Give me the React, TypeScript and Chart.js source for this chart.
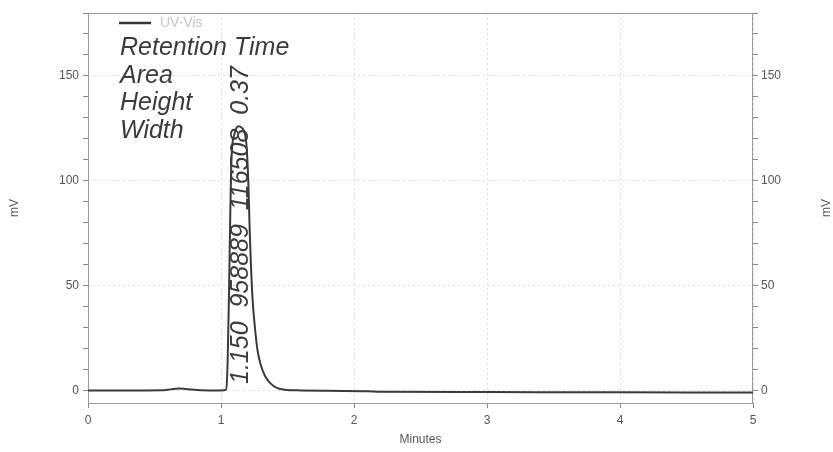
import { useEffect, useRef } from 'react';
import { Chart, registerables } from 'chart.js';

Chart.register(...registerables);

// ---- data ----
const times = [0, 0.3, 0.55, 0.62, 0.68, 0.72, 0.78, 0.85, 1.0, 1.04, 1.05, 1.06, 1.07, 1.08, 1.1, 1.13, 1.16, 1.19, 1.205, 1.215, 1.235, 1.255, 1.275, 1.3, 1.33, 1.37, 1.42, 1.48, 1.6, 1.8, 2.1, 2.2, 3, 4, 5];
const signal = [0, 0, 0.1, 0.5, 0.9, 0.8, 0.4, 0.1, 0, 0.4, 14, 45, 85, 112, 122, 126, 125, 118, 100, 78, 46, 30, 19, 12, 7, 3.5, 1.2, 0.3, 0, -0.2, -0.4, -0.6, -0.8, -0.9, -1.0];
const xTicks = [0, 1, 2, 3, 4, 5];
const yTickLabels = [0, 50, 100, 150];
const legendLabel = 'UV-Vis';
const peakLabels = ['Retention Time', 'Area', 'Height', 'Width'];
const peakValues = ['1.150', '958889', '116508', '0.37'];
const retentionTime = 1.15;
const xTitle = 'Minutes';
const yTitle = 'mV';

const FONT = "'Liberation Sans', Arial, sans-serif";

const overlayPlugin = {
  id: 'overlay',
  beforeDatasetsDraw(chart: any) {
    const { ctx, chartArea } = chart;
    const { left, top, right, bottom } = chartArea;
    ctx.save();
    ctx.strokeStyle = '#9a9a9a';
    ctx.lineWidth = 1;
    ctx.strokeRect(left + 0.5, top + 0.5, right - left - 1, bottom - top);
    ctx.restore();
  },
  afterDraw(chart: any) {
    const { ctx, chartArea, scales } = chart;
    const { left, top, bottom } = chartArea;
    ctx.save();
    // legend
    ctx.strokeStyle = '#333';
    ctx.lineWidth = 2.5;
    ctx.beginPath();
    ctx.moveTo(left + 31, top + 10);
    ctx.lineTo(left + 63, top + 10);
    ctx.stroke();
    ctx.fillStyle = '#c4c4c4';
    ctx.font = `14px ${FONT}`;
    ctx.textBaseline = 'middle';
    ctx.textAlign = 'left';
    ctx.fillText(legendLabel, left + 72, top + 10);

    // peak labels
    ctx.fillStyle = '#3b3b3b';
    ctx.font = `italic 25px ${FONT}`;
    ctx.textBaseline = 'alphabetic';
    const offs = [42, 70, 97, 125];
    peakLabels.forEach((t, i) => ctx.fillText(t, left + 32, top + offs[i]));

    // rotated values
    const px = scales.x.getPixelForValue(retentionTime);
    ctx.save();
    ctx.translate(px, bottom - 19);
    ctx.rotate(-Math.PI / 2);
    ctx.font = `italic 25px ${FONT}`;
    ctx.textBaseline = 'middle';
    ctx.textAlign = 'left';
    ctx.fillText(peakValues.join('  '), 0, 0);
    ctx.restore();

    // axis titles
    ctx.fillStyle = '#555';
    ctx.font = `12px ${FONT}`;
    ctx.textAlign = 'center';
    ctx.textBaseline = 'middle';
    const cy = (top + bottom) / 2;
    [15, 827].forEach((x) => {
      ctx.save();
      ctx.translate(x, cy);
      ctx.rotate(-Math.PI / 2);
      ctx.fillText(yTitle, 0, 0);
      ctx.restore();
    });
    ctx.restore();
  },
};

export default function App() {
  const ref = useRef<HTMLCanvasElement>(null);
  useEffect(() => {
    if (!ref.current) return;
    Chart.defaults.font.family = FONT;
    const gridColor = (ctx: any) => (yTickLabels.includes(ctx.tick?.value) ? '#dcdcdc' : 'rgba(0,0,0,0)');
    const yTicks = {
      stepSize: 10,
      includeBounds: false,
      autoSkip: false,
      color: '#555',
      font: { size: 12 },
      callback: (v: any) => (yTickLabels.includes(v) ? String(v) : ''),
    };
    const chart = new Chart(ref.current, {
      type: 'line',
      data: {
        datasets: [
          {
            label: legendLabel,
            data: times.map((t, i) => ({ x: t, y: signal[i] })),
            borderColor: '#3a3a3a',
            borderWidth: 2,
            pointRadius: 0,
            cubicInterpolationMode: 'monotone',
            yAxisID: 'y',
          },
        ],
      },
      options: {
        animation: false,
        responsive: false,
        layout: { padding: { top: 13 } },
        plugins: { legend: { display: false }, tooltip: { enabled: false } },
        scales: {
          x: {
            type: 'linear',
            min: 0,
            max: 5,
            afterFit: (s: any) => { s.height = 49; },
            afterBuildTicks: (s: any) => { s.ticks = xTicks.map((v) => ({ value: v })); },
            ticks: { color: '#555', font: { size: 12 }, padding: 5, maxRotation: 0 },
            grid: { color: '#dcdcdc', tickColor: '#888', tickLength: 5, tickBorderDash: [] },
            border: { display: false, dash: [2, 3] },
            title: { display: true, text: xTitle, color: '#555', font: { size: 12 }, padding: { top: 0, bottom: 5 } },
          },
          y: {
            position: 'left',
            min: -6,
            max: 180,
            afterFit: (s: any) => { s.width = 88; },
            ticks: { ...yTicks, padding: 4 },
            grid: { color: gridColor, tickColor: '#888', tickLength: 5, tickBorderDash: [] },
            border: { display: false, dash: [2, 3] },
          },
          y2: {
            position: 'right',
            min: -6,
            max: 180,
            afterFit: (s: any) => { s.width = 80; },
            ticks: { ...yTicks, padding: 3 },
            grid: { drawOnChartArea: false, tickColor: '#888', tickLength: 5, tickBorderDash: [] },
            border: { display: false },
          },
        },
      },
      plugins: [overlayPlugin],
    } as any);
    return () => chart.destroy();
  }, []);
  return (
    <div style={{ position: 'absolute', left: 0, top: 0, width: 833, height: 452, background: '#fff' }}>
      <canvas ref={ref} width={833} height={452} style={{ display: 'block' }} />
    </div>
  );
}
